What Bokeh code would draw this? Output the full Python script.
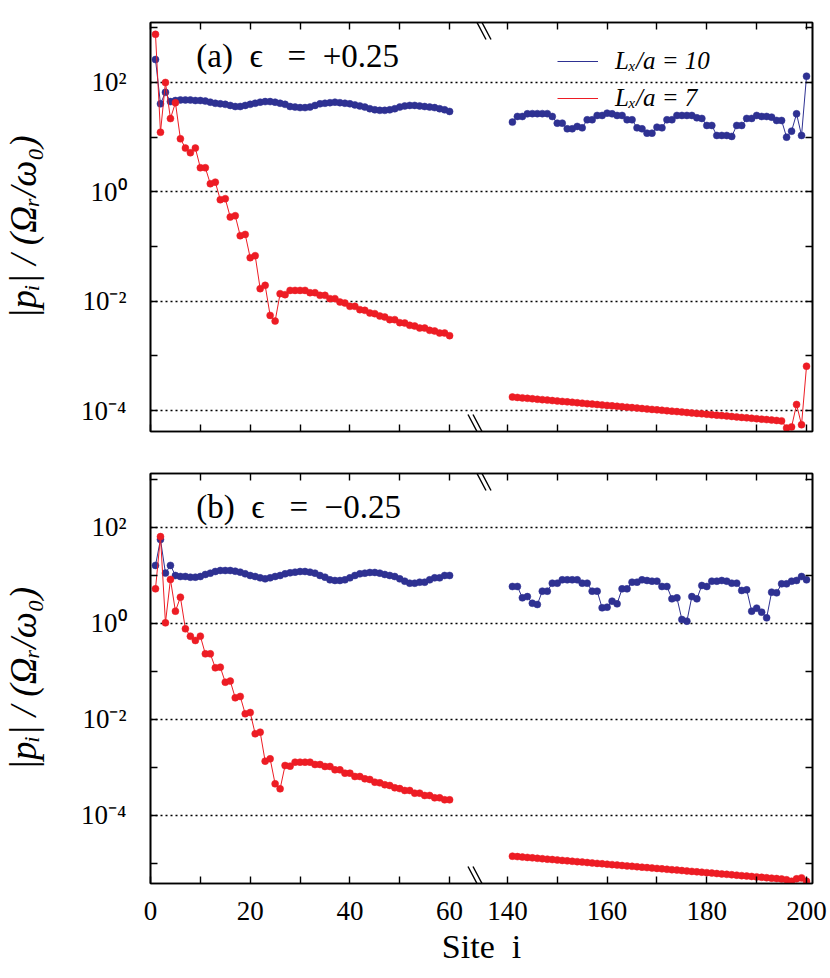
import math
from bokeh.plotting import figure
from bokeh.models import (Range1d, FixedTicker, LinearAxis, LogAxis, Label, Legend,
                          LegendItem, Arrow, CustomJSTickFormatter)
from bokeh.layouts import column
from bokeh.embed import file_html
from bokeh.resources import INLINE

# ---------------- data (log10 of |p_i| / (Omega_R/omega_0)) ----------------
sites_left = list(range(1, 61))
sites_right = list(range(141, 201))

a_blue_left = [2.42, 1.61, 1.82, 1.65, 1.67, 1.68, 1.68, 1.68, 1.67, 1.67,
               1.66, 1.64, 1.62, 1.61, 1.60, 1.58, 1.56, 1.56, 1.58, 1.60,
               1.62, 1.64, 1.65, 1.65, 1.64, 1.62, 1.60, 1.56, 1.55, 1.54,
               1.54, 1.55, 1.58, 1.61, 1.62, 1.63, 1.64, 1.63, 1.62, 1.61,
               1.59, 1.57, 1.55, 1.52, 1.50, 1.49, 1.49, 1.50, 1.52, 1.55,
               1.57, 1.58, 1.58, 1.57, 1.56, 1.55, 1.54, 1.52, 1.50, 1.47]
a_blue_right = [1.275, 1.378, 1.378, 1.427, 1.43, 1.43, 1.43, 1.43, 1.378, 1.256,
                1.256, 1.153, 1.153, 1.196, 1.17, 1.318, 1.318, 1.397, 1.397, 1.439,
                1.427, 1.397, 1.397, 1.318, 1.318, 1.17, 1.153, 1.073, 1.073, 1.183,
                1.17, 1.318, 1.318, 1.397, 1.397, 1.397, 1.397, 1.354, 1.342, 1.214,
                1.214, 1.031, 1.031, 1.031, 1.013, 1.214, 1.214, 1.342, 1.342, 1.397,
                1.378, 1.378, 1.366, 1.305, 1.305, 1.0, 1.11, 1.427, 1.031, 2.115]
a_red_left = [2.88, 1.09, 2.0, 1.34, 1.63, 0.97, 0.80, 0.715, 0.80, 0.44,
              0.44, 0.148, 0.177, -0.144, -0.126, -0.462, -0.437, -0.803, -0.779, -1.205,
              -1.168, -1.771, -1.711, -2.26, -2.364, -1.863, -1.881, -1.803, -1.803, -1.803,
              -1.803, -1.845, -1.845, -1.894, -1.894, -1.954, -1.954, -2.016, -2.034, -2.095,
              -2.095, -2.155, -2.168, -2.217, -2.228, -2.272, -2.29, -2.338, -2.338, -2.393,
              -2.4, -2.442, -2.455, -2.492, -2.492, -2.534, -2.546, -2.583, -2.583, -2.631]
a_red_right = [-3.753, -3.761, -3.769, -3.777, -3.785, -3.794, -3.802, -3.810, -3.818, -3.826,
               -3.834, -3.842, -3.850, -3.858, -3.866, -3.875, -3.883, -3.891, -3.899, -3.907,
               -3.915, -3.923, -3.931, -3.939, -3.947, -3.956, -3.964, -3.972, -3.980, -3.988,
               -3.996, -4.004, -4.012, -4.020, -4.028, -4.037, -4.045, -4.053, -4.061, -4.069,
               -4.077, -4.085, -4.093, -4.101, -4.109, -4.118, -4.126, -4.134, -4.142, -4.150,
               -4.158, -4.166, -4.174, -4.182, -4.190, -4.32, -4.30, -3.89, -4.26, -3.19]

b_blue_left = [1.21, 1.75, 1.05, 1.21, 1.0, 0.979, 0.979, 0.965, 0.965, 0.979,
               1.021, 1.049, 1.083, 1.104, 1.104, 1.104, 1.09, 1.07, 1.035, 1.0,
               0.979, 0.951, 0.93, 0.951, 0.979, 1.0, 1.035, 1.056, 1.07, 1.083,
               1.083, 1.07, 1.049, 1.0, 0.965, 0.91, 0.896, 0.896, 0.91, 0.951,
               1.0, 1.035, 1.049, 1.063, 1.063, 1.049, 1.021, 1.0, 0.979, 0.93,
               0.882, 0.84, 0.84, 0.861, 0.861, 0.91, 0.951, 0.951, 1.0, 1.0]
b_blue_right = [0.771, 0.771, 0.535, 0.56, 0.423, 0.396, 0.674, 0.674, 0.84, 0.84,
                0.91, 0.91, 0.91, 0.91, 0.84, 0.84, 0.674, 0.674, 0.327, 0.34,
                0.465, 0.41, 0.722, 0.722, 0.861, 0.861, 0.91, 0.896, 0.882, 0.882,
                0.771, 0.771, 0.514, 0.535, 0.083, 0.048, 0.56, 0.514, 0.792, 0.771,
                0.882, 0.882, 0.896, 0.882, 0.84, 0.84, 0.688, 0.701, 0.257, 0.32,
                0.236, 0.118, 0.653, 0.639, 0.826, 0.826, 0.882, 0.896, 0.979, 0.91]
b_red_left = [0.723, 1.81, 0.014, 0.917, 0.257, 0.548, -0.111, -0.264, -0.354, -0.264,
              -0.632, -0.632, -0.923, -0.91, -1.223, -1.2, -1.548, -1.52, -1.881, -1.854,
              -2.298, -2.264, -2.868, -2.82, -3.34, -3.444, -2.958, -2.972, -2.889, -2.889,
              -2.889, -2.889, -2.938, -2.938, -2.979, -2.979, -3.049, -3.049, -3.118, -3.118,
              -3.188, -3.188, -3.236, -3.25, -3.306, -3.32, -3.36, -3.375, -3.423, -3.44,
              -3.479, -3.479, -3.535, -3.535, -3.583, -3.583, -3.632, -3.632, -3.673, -3.673]
b_red_right = [-4.848, -4.857, -4.866, -4.874, -4.883, -4.892, -4.901, -4.910, -4.918, -4.927,
               -4.936, -4.945, -4.954, -4.962, -4.971, -4.980, -4.989, -4.998, -5.006, -5.015,
               -5.024, -5.033, -5.042, -5.050, -5.059, -5.068, -5.077, -5.086, -5.094, -5.103,
               -5.112, -5.121, -5.130, -5.138, -5.147, -5.156, -5.165, -5.174, -5.182, -5.191,
               -5.200, -5.209, -5.218, -5.226, -5.235, -5.244, -5.253, -5.262, -5.270, -5.279,
               -5.288, -5.297, -5.306, -5.314, -5.323, -5.34, -5.37, -5.32, -5.30, -5.37]

x_tick_sites = [0, 20, 40, 60, 140, 160, 180, 200]
x_tick_labels = ["0", "20", "40", "60", "140", "160", "180", "200"]
x_minor_sites = [10, 30, 50, 150, 170, 190]
y_tick_values = [1e-4, 1e-2, 1e0, 1e2]
y_tick_labels = ["10\u207b\u2074", "10\u207b\u00b2", "10\u2070", "10\u00b2"]
y_minor_values = [1e-5, 1e-3, 1e-1, 1e1, 1e3]

series_labels = ["L\u2093/a = 10", "L\u2093/a = 7"]
panel_labels = ["(a)\u2002\u03f5\u2002 =\u2002+0.25", "(b)\u2002\u03f5\u2002 =\u2002\u22120.25"]
y_title = "|p\u1d62| / (\u03a9\u1d63/\u03c9\u2080)"
x_title = "Site\u2002i"

# ---------------- layout / style ----------------
BLUE = "#2E3192"
RED = "#ED1C24"
FONT = "Liberation Serif"
break_shift = 68.4          # compressed x coordinate for the right-hand segment
x_end = 132.8
PX_PER_UNIT = 5.0


def xmap(s):
    return s if s <= 100 else s - break_shift


x_left = [xmap(s) for s in sites_left]
x_right = [xmap(s) for s in sites_right]
x_major = [xmap(s) for s in x_tick_sites]
x_minor = [xmap(s) for s in x_minor_sites]
break_x = (xmap(60) + xmap(140)) / 2.0

blank = CustomJSTickFormatter(code="return ''")


def style_axis(ax, labels=True):
    ax.major_tick_in = 7
    ax.major_tick_out = 0
    ax.minor_tick_in = 7
    ax.minor_tick_out = 0
    ax.major_tick_line_width = 1.4
    ax.minor_tick_line_width = 1.4
    ax.major_tick_line_color = "black"
    ax.minor_tick_line_color = "black"
    ax.axis_line_width = 1.6
    ax.axis_line_color = "black"
    ax.major_label_text_font = FONT
    ax.major_label_text_font_size = "27px"
    ax.major_label_text_color = "black"
    if not labels:
        ax.formatter = blank


def make_panel(height, btop, bbottom, ylo, yhi, show_x_labels):
    p = figure(width=828, height=height, x_range=Range1d(0, x_end),
               y_range=Range1d(10 ** ylo, 10 ** yhi), y_axis_type="log",
               output_backend="svg", toolbar_location=None,
               min_border_left=148, min_border_right=16,
               min_border_top=btop, min_border_bottom=bbottom)
    p.background_fill_color = "white"
    p.border_fill_color = "white"
    p.outline_line_color = "black"
    p.outline_line_width = 1.6
    p.xgrid.visible = False
    p.ygrid.ticker = FixedTicker(ticks=y_tick_values)
    p.ygrid.grid_line_color = "black"
    p.ygrid.grid_line_dash = "2 3"
    p.ygrid.grid_line_width = 1.3

    xt = FixedTicker(ticks=x_major, minor_ticks=x_minor)
    yt = FixedTicker(ticks=y_tick_values, minor_ticks=y_minor_values)

    xb = p.xaxis[0]
    xb.ticker = xt
    style_axis(xb, show_x_labels)
    if show_x_labels:
        xb.major_label_overrides = dict(zip(x_major, x_tick_labels))
        xb.major_label_standoff = 18
        xb.axis_label = x_title
        xb.axis_label_text_font = FONT
        xb.axis_label_text_font_size = "34px"
        xb.axis_label_text_font_style = "normal"
        xb.axis_label_text_color = "black"
        xb.axis_label_standoff = 5

    yl = p.yaxis[0]
    yl.ticker = yt
    style_axis(yl)
    yl.major_label_overrides = dict(zip(y_tick_values, y_tick_labels))
    yl.major_label_standoff = 24
    yl.axis_label = y_title
    yl.axis_label_text_font = FONT
    yl.axis_label_text_font_size = "37px"
    yl.axis_label_text_font_style = "italic"
    yl.axis_label_text_color = "black"
    yl.axis_label_standoff = 34

    top = LinearAxis(ticker=FixedTicker(ticks=x_major, minor_ticks=x_minor))
    style_axis(top, False)
    p.add_layout(top, "above")
    right = LogAxis(ticker=FixedTicker(ticks=y_tick_values, minor_ticks=y_minor_values))
    style_axis(right, False)
    p.add_layout(right, "right")
    return p


def add_series(p, yl_left, yl_right, color):
    yl = [10 ** v for v in yl_left]
    yr = [10 ** v for v in yl_right]
    r1 = p.line(x_left, yl, line_color=color, line_width=1.0)
    p.line(x_right, yr, line_color=color, line_width=1.0)
    p.scatter(x_left + x_right, yl + yr, size=7, fill_color=color,
              line_color=color, line_width=0.5)
    return r1


def add_breaks(p, frame_h):
    bx = break_x * PX_PER_UNIT
    for yc in (0.0, float(frame_h)):
        for dx in (-2.5, 2.5):
            p.add_layout(Arrow(end=None, x_start=bx - 9 + dx, y_start=yc + 17,
                               x_end=bx + 9 + dx, y_end=yc - 17,
                               start_units="screen", end_units="screen",
                               line_color="black", line_width=1.4))


def add_panel_label(p, text, log_y):
    p.add_layout(Label(x=9.2, y=10 ** log_y, text=text,
                       text_font=FONT, text_font_size="33px", text_color="black",
                       text_baseline="alphabetic", text_align="left"))


# ---------------- panel (a) ----------------
pa = make_panel(451, 22, 20, -4.384, 3.097, False)
ra_blue = add_series(pa, a_blue_left, a_blue_right, BLUE)
ra_red = add_series(pa, a_red_left, a_red_right, RED)
add_breaks(pa, 409)
add_panel_label(pa, panel_labels[0], 2.48)
legend = Legend(items=[LegendItem(label=series_labels[0], renderers=[ra_blue]),
                       LegendItem(label=series_labels[1], renderers=[ra_red])],
                location=(407, 318), glyph_width=41, glyph_height=30, label_height=30,
                spacing=7, padding=0, margin=0, label_standoff=17,
                border_line_color=None, background_fill_alpha=0,
                label_text_font=FONT, label_text_font_size="25px",
                label_text_font_style="italic", label_text_color="black")
pa.add_layout(legend)

# ---------------- panel (b) ----------------
pb = make_panel(525, 22, 93, -5.417, 3.125, True)
add_series(pb, b_blue_left, b_blue_right, BLUE)
add_series(pb, b_red_left, b_red_right, RED)
add_breaks(pb, 410)
add_panel_label(pb, panel_labels[1], 2.42)

layout = column(pa, pb)
open("out.html", "w").write(file_html(layout, INLINE))
